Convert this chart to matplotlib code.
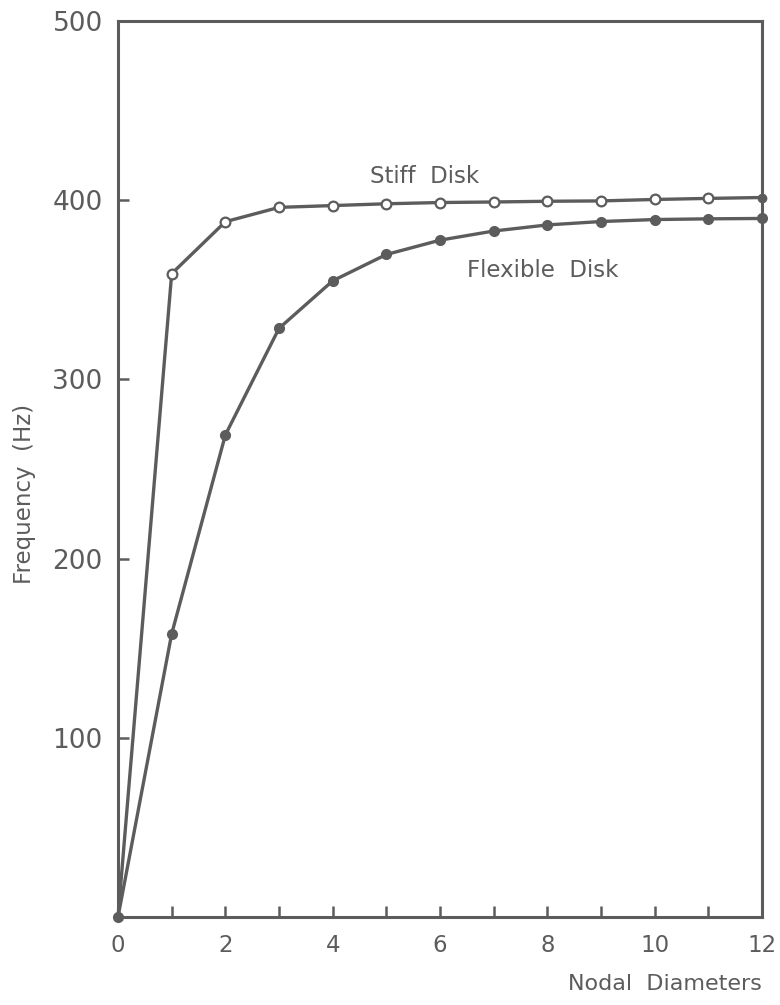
import matplotlib
matplotlib.use("Agg")
import matplotlib.pyplot as plt

nodal_diameters = [0, 1, 2, 3, 4, 5, 6, 7, 8, 9, 10, 11, 12]
stiff_disk = [0, 359, 388, 396, 397, 398, 398.7, 399, 399.4, 399.6, 400.4, 401, 401.5]
flexible_disk = [0, 158, 269, 328.5, 355, 369.7, 377.7, 382.8, 386.2, 388.1, 389.2, 389.6, 389.8]
y_tick_values = [100, 200, 300, 400, 500]

ink = "#5c5c5c"
plt.rcParams["font.family"] = ["DejaVu Sans"]

fig = plt.figure(figsize=(7.8, 10.05), dpi=100)
ax = fig.add_axes([0.1513, 0.0876, 0.8257, 0.8915])

# stiff disk: open circles, connected by a line (end points drawn filled)
ax.plot(nodal_diameters, stiff_disk, color=ink, lw=2.4, zorder=2, clip_on=False)
ax.plot(nodal_diameters[1:-1], stiff_disk[1:-1], ls="none", marker="o", ms=7,
        mfc="white", mec=ink, mew=1.6, zorder=3)
ax.plot(nodal_diameters[-1:], stiff_disk[-1:], ls="none", marker="o", ms=6,
        mfc=ink, mec=ink, zorder=3, clip_on=False)

# flexible disk: filled circles
ax.plot(nodal_diameters, flexible_disk, color=ink, lw=2.4, marker="o", ms=7,
        mfc=ink, mec=ink, zorder=2, clip_on=False)

ax.set_xlim(0, 12)
ax.set_ylim(0, 500)
ax.set_xticks(nodal_diameters)
ax.set_xticklabels([str(v) if v % 2 == 0 else "" for v in nodal_diameters])
ax.set_yticks(y_tick_values)
ax.set_yticklabels([str(v) for v in y_tick_values])

for sp in ax.spines.values():
    sp.set_color(ink)
    sp.set_linewidth(2.2)

ax.tick_params(axis="both", direction="in", length=8, width=1.8, color=ink,
               labelcolor=ink)
ax.tick_params(axis="x", pad=12, labelsize=16.5)
ax.tick_params(axis="y", pad=11, labelsize=19)

fig.text(25 / 780, 1 - 494 / 1005, "Frequency  (Hz)", rotation=90, ha="center",
         va="center", fontsize=16.5, color=ink)
ax.text(1.0, -0.075, "Nodal  Diameters", transform=ax.transAxes, ha="right",
        va="center", fontsize=16, color=ink)

ax.text(4.7, 413, "Stiff  Disk", fontsize=16.5, color=ink, ha="left", va="center")
ax.text(6.5, 361, "Flexible  Disk", fontsize=16.5, color=ink, ha="left", va="center")

fig.savefig("out.png", dpi=100, facecolor="white")
